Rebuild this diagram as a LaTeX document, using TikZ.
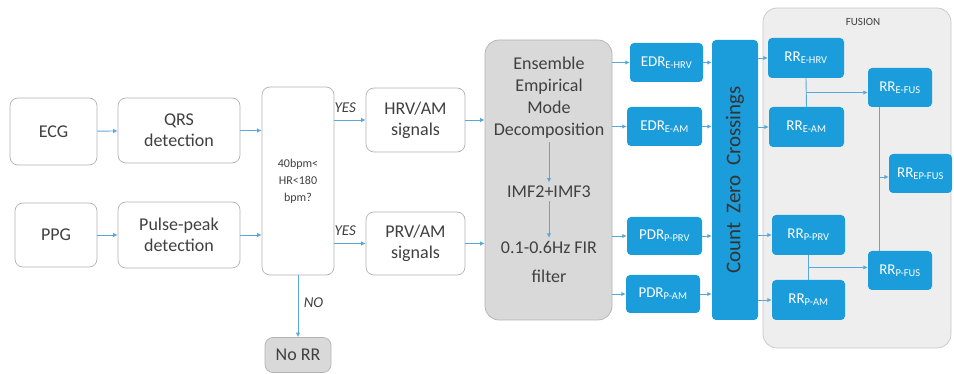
\documentclass[tikz,border=0pt]{standalone}
\usepackage{fontspec}
\setmainfont{Carlito}
\usetikzlibrary{arrows.meta,calc}

\definecolor{boxblue}{RGB}{26,157,218}
\definecolor{lineblue}{RGB}{90,168,218}
\definecolor{boxgray}{RGB}{217,217,217}
\definecolor{fusgray}{RGB}{238,238,238}
\definecolor{txtgray}{RGB}{64,64,64}

\begin{document}
\begin{tikzpicture}[x = 1pt, y = -1pt,
	wbox/.style = {draw = gray!60, line width = 0.7pt, rounded corners = 8pt, fill = white, text = txtgray, align = center, font = \fontsize{18}{21}\selectfont},
	bbox/.style = {fill = boxblue, rounded corners = 4pt, text = white, font = \fontsize{15}{18}\selectfont},
	link/.style = {lineblue, line width = 0.9pt, -{Latex[length = 4.5pt, width = 4.5pt]}},
	tag/.style = {text = txtgray, font = \fontsize{15}{18}\selectfont\itshape}]
\useasboundingbox (0,0) rectangle (954,374);

\node[wbox, minimum width = 87, minimum height = 67] (ecg) at (53.5,131.5) {ECG};
\node[wbox, minimum width = 122, minimum height = 65] (qrs) at (179,130.5) {QRS\\detection};
\node[wbox, minimum width = 82, minimum height = 64] (ppg) at (56,235) {PPG};
\node[wbox, minimum width = 122, minimum height = 66] (pulse) at (179,235) {Pulse-peak\\detection};
\node[wbox, minimum width = 72, minimum height = 188, font = \fontsize{12}{17}\selectfont] (hr) at (298,181) {40bpm<\\HR<180\\bpm?};
\node[wbox, minimum width = 99, minimum height = 64] (hrv) at (415.5,120) {HRV/AM\\signals};
\node[wbox, minimum width = 99, minimum height = 63] (prv) at (415.5,243.5) {PRV/AM\\signals};
\node[wbox, fill = boxgray, minimum width = 66, minimum height = 35] (norr) at (298,355) {No RR};

\draw[link] (ecg) -- (qrs);
\draw[link] (ppg) -- (pulse);
\draw[link] (qrs.east) -- (hr.west |- qrs.east);
\draw[link] (pulse.east) -- (hr.west |- pulse.east);
\draw[link] (hr.east |- hrv.west) -- (hrv.west) node [tag, pos = 0.35, above = 4pt] {YES};
\draw[link] (hr.east |- prv.west) -- (prv.west) node [tag, pos = 0.35, above = 4pt] {YES};
\draw[link] (hr.south) -- (norr.north) node [tag, pos = 0.45, right = 2pt] {NO};

% EEMD block
\node[wbox, fill = boxgray, rounded corners = 14pt, minimum width = 127, minimum height = 280] (eemd) at (548.5,180) {};
\node[text = txtgray, align = center, font = \fontsize{18}{22}\selectfont] (emd) at (549,98) {Ensemble\\Empirical\\Mode\\Decomposition};
\node[text = txtgray, font = \fontsize{18}{22}\selectfont] (imf) at (549,192) {IMF2+IMF3};
\node[text = txtgray, align = center, font = \fontsize{18}{29}\selectfont] (fir) at (549,262) {0.1-0.6Hz FIR\\filter};
\draw[link] (emd) -- (imf);
\draw[link] (imf) -- (fir);

\draw[link] (hrv.east) -- (eemd.west |- hrv.east);
\draw[link] (prv.east) -- (eemd.west |- prv.east);

\node[bbox, minimum width = 73, minimum height = 39] (edrh) at (666.5,62.5) {EDR\textsubscript{E-HRV}};
\node[bbox, minimum width = 75, minimum height = 39] (edra) at (664.5,126.5) {EDR\textsubscript{E-AM}};
\node[bbox, minimum width = 75, minimum height = 38] (pdrp) at (664.5,236) {PDR\textsubscript{P-PRV}};
\node[bbox, minimum width = 74, minimum height = 38] (pdra) at (663,294) {PDR\textsubscript{P-AM}};
\node[bbox, minimum width = 46, minimum height = 280] (czc) at (735,180) {};
\node[rotate = 90, text = black!80, font = \fontsize{21}{24}\selectfont] (czctext) at (czc) {Count \ Zero \ Crossings};

\foreach \d in {edrh, edra, pdrp, pdra}
{
	\draw[link] (eemd.east |- \d.west) -- (\d.west);
	\draw[link] (\d.east) -- (czc.west |- \d.east);
}

% fusion block
\node[draw = gray!45, line width = 0.7pt, fill = fusgray, rounded corners = 14pt, minimum width = 188, minimum height = 340] (fusion) at (857,178) {};
\node[text = txtgray, font = \fontsize{11}{13}\selectfont] (fuslabel) at (863,22) {FUSION};

\node[bbox, minimum width = 76, minimum height = 40] (rreh) at (806,58) {RR\textsubscript{E-HRV}};
\node[bbox, minimum width = 75, minimum height = 40] (rrea) at (806.5,127) {RR\textsubscript{E-AM}};
\node[bbox, minimum width = 73, minimum height = 40] (rrpp) at (808.5,235) {RR\textsubscript{P-PRV}};
\node[bbox, minimum width = 73, minimum height = 40] (rrpa) at (808.5,300) {RR\textsubscript{P-AM}};
\node[bbox, minimum width = 64, minimum height = 39] (rref) at (900,87.5) {RR\textsubscript{E-FUS}};
\node[bbox, minimum width = 63, minimum height = 39] (rrep) at (920.5,173.5) {RR\textsubscript{EP-FUS}};
\node[bbox, minimum width = 64, minimum height = 39] (rrpf) at (900,270.5) {RR\textsubscript{P-FUS}};

\foreach \r in {rreh, rrea, rrpp, rrpa}
{
	\draw[link] (czc.east |- \r.west) -- (\r.west);
}

\coordinate (ej) at ($(rreh.south)!0.5!(rrea.north)$);
\coordinate (pj) at ($(rrpp.south)!0.5!(rrpa.north)$);
\coordinate (fj) at (879,177);
\draw[lineblue, line width = 0.9pt] (rreh.south) -- (rrea.north);
\draw[lineblue, line width = 0.9pt] (rrpp.south) -- (rrpa.north);
\draw[lineblue, line width = 0.9pt] (fj |- rref.south) -- (fj |- rrpf.north);
\draw[link] (ej) -- (ej -| rref.west);
\draw[link] (pj) -- (pj -| rrpf.west);
\draw[link] (fj) -- (fj -| rrep.west);
\end{tikzpicture}
\end{document}
